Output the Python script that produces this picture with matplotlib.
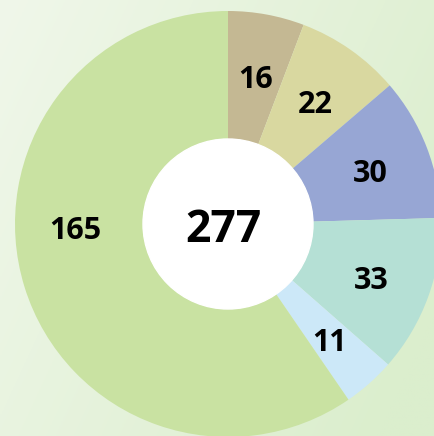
import matplotlib.pyplot as plt
import numpy as np

values = [16, 22, 30, 33, 11, 165]
labels = ["16", "22", "30", "33", "11", "165"]
colors = ["#c4b893", "#d9d8a0", "#97a6d4", "#b5e0d5", "#cce8f8", "#c9e2a2"]
total = sum(values)

W, H = 435, 436
cx, cy = 228, 224   # centre in pixels (from top-left)
R = 213             # outer radius in pixels
r_in = 85 / R

fig = plt.figure(figsize=(W / 100, H / 100), dpi=100)

# soft green background gradient
bg = fig.add_axes([0, 0, 1, 1])
gx = np.linspace(0, 1, 200)
gy = np.linspace(0, 1, 200)
X, Y = np.meshgrid(gx, gy)
t = np.clip(0.75 * X + 0.35 * Y, 0, 1)
c0 = np.array([0xf0, 0xf7, 0xea]) / 255
c1 = np.array([0xdb, 0xee, 0xcd]) / 255
img = c0 + (c1 - c0) * t[..., None]
bg.imshow(img, extent=[0, 1, 0, 1], aspect="auto", origin="upper")
bg.axis("off")

ax = fig.add_axes([0, 0, 1, 1])
ax.set_facecolor("none")
wedges, _ = ax.pie(values, colors=colors, startangle=90, counterclock=False,
                   radius=1, wedgeprops=dict(width=1 - r_in, linewidth=0))

big = int(np.argmax(values))
for i, (w, lab) in enumerate(zip(wedges, labels)):
    ang_deg = (w.theta1 + w.theta2) / 2
    if i == big:
        ang_deg = 180.5   # largest slice labelled on the left
    ang = np.deg2rad(ang_deg)
    rr = 0.715
    ax.text(rr * np.cos(ang), rr * np.sin(ang) - 0.025, lab, ha="center",
            va="center", fontsize=22, fontweight="bold", family="Open Sans",
            color="black")

ax.add_patch(plt.Circle((0, 0), r_in, color="white", zorder=3))
ax.text(-0.02, -0.03, str(total), ha="center", va="center", fontsize=32,
        fontweight="bold", family="Open Sans", color="black", zorder=4)

ax.set_xlim(-cx / R, (W - cx) / R)
ax.set_ylim(-(H - cy) / R, cy / R)
ax.set_aspect("auto")
ax.axis("off")

plt.savefig("out.png", dpi=100)
